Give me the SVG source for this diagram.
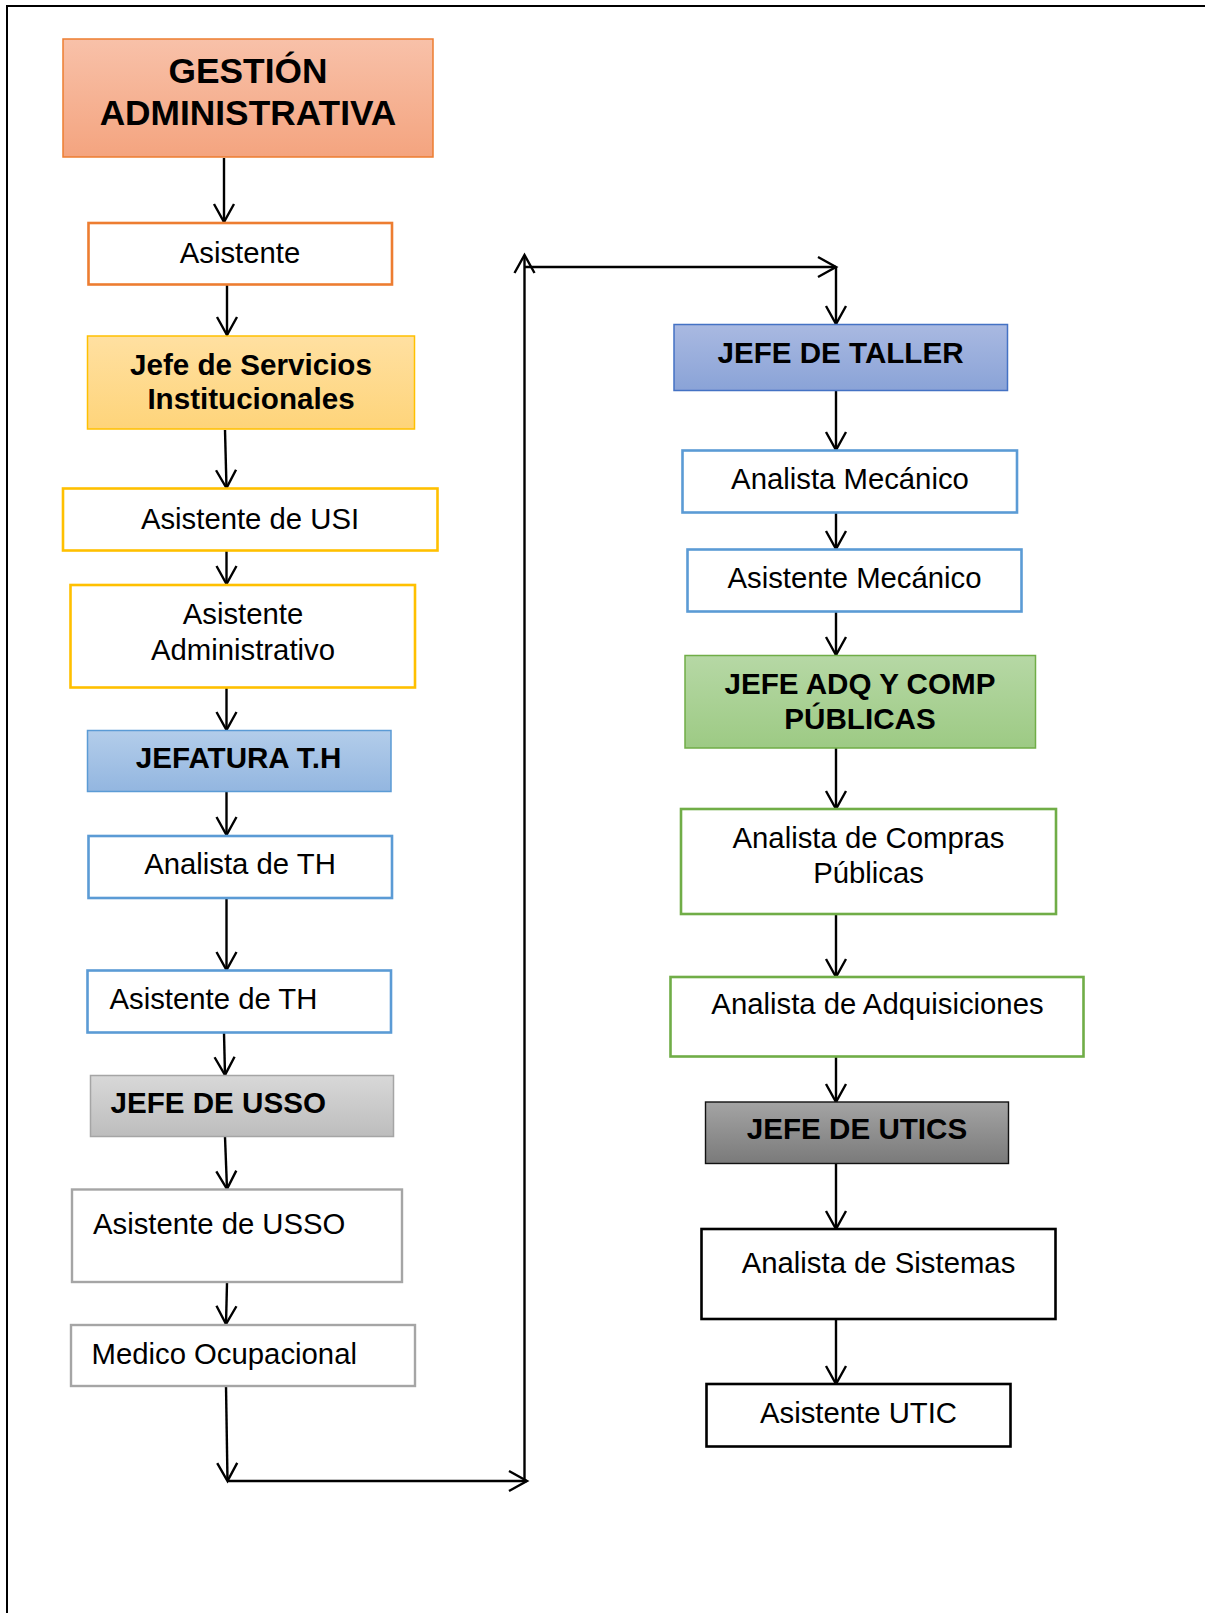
<svg xmlns="http://www.w3.org/2000/svg" width="1205" height="1613" viewBox="0 0 1205 1613">
  <style>
    .t { font-family: "Liberation Sans", Arial, sans-serif; font-size: 29.3px; fill: #000; }
    .b { font-weight: bold; font-size: 29.6px; }
    .big { font-size: 35.3px; }
    .mid { text-anchor: middle; }
    .edge { fill: none; stroke: #000; stroke-width: 2.4; }
  </style>
  <defs>
    <marker id="arrow" viewBox="-20 -12 24 24" markerWidth="24" markerHeight="24" refX="0" refY="0" markerUnits="userSpaceOnUse" orient="auto" overflow="visible">
      <path d="M -18 -10 L 0 0 L -18 10" fill="none" stroke="#000" stroke-width="2.4"/>
    </marker>
    <linearGradient id="gOrange" x1="0" y1="0" x2="0" y2="1">
      <stop offset="0" stop-color="#f8c1a9"/>
      <stop offset="1" stop-color="#f4a47f"/>
    </linearGradient>
    <linearGradient id="gYellow" x1="0" y1="0" x2="0" y2="1">
      <stop offset="0" stop-color="#ffe0a1"/>
      <stop offset="1" stop-color="#fed47a"/>
    </linearGradient>
    <linearGradient id="gLightBlue" x1="0" y1="0" x2="0" y2="1">
      <stop offset="0" stop-color="#b3cdea"/>
      <stop offset="1" stop-color="#93b6e0"/>
    </linearGradient>
    <linearGradient id="gBlue" x1="0" y1="0" x2="0" y2="1">
      <stop offset="0" stop-color="#a9b9e1"/>
      <stop offset="1" stop-color="#8aa3d7"/>
    </linearGradient>
    <linearGradient id="gGreen" x1="0" y1="0" x2="0" y2="1">
      <stop offset="0" stop-color="#b6d8a5"/>
      <stop offset="1" stop-color="#9dca84"/>
    </linearGradient>
    <linearGradient id="gGray" x1="0" y1="0" x2="0" y2="1">
      <stop offset="0" stop-color="#d8d8d8"/>
      <stop offset="1" stop-color="#bdbdbd"/>
    </linearGradient>
    <linearGradient id="gDark" x1="0" y1="0" x2="0" y2="1">
      <stop offset="0" stop-color="#a4a4a4"/>
      <stop offset="1" stop-color="#7a7a7a"/>
    </linearGradient>
  </defs>

  <rect width="1205" height="1613" fill="#fff"/>
  <!-- page frame, open past the right and bottom edges -->
  <rect x="7" y="6" width="1400" height="1800" fill="none" stroke="#000" stroke-width="2"/>

  <!-- connectors -->
  <g id="connectors">
    <line class="edge" x1="224" y1="158" x2="224" y2="222" marker-end="url(#arrow)"/>
    <line class="edge" x1="227" y1="285" x2="227" y2="335" marker-end="url(#arrow)"/>
    <line class="edge" x1="225" y1="430" x2="226.5" y2="488" marker-end="url(#arrow)"/>
    <line class="edge" x1="226.5" y1="551" x2="226.5" y2="584" marker-end="url(#arrow)"/>
    <line class="edge" x1="226.5" y1="688" x2="226.5" y2="730" marker-end="url(#arrow)"/>
    <line class="edge" x1="226.5" y1="792" x2="226.5" y2="835" marker-end="url(#arrow)"/>
    <line class="edge" x1="226.5" y1="898" x2="226.5" y2="970" marker-end="url(#arrow)"/>
    <line class="edge" x1="224" y1="1033" x2="225" y2="1075" marker-end="url(#arrow)"/>
    <line class="edge" x1="225" y1="1137" x2="227" y2="1189" marker-end="url(#arrow)"/>
    <line class="edge" x1="227" y1="1283" x2="226" y2="1324" marker-end="url(#arrow)"/>
    <line class="edge" x1="226" y1="1386" x2="227.5" y2="1481" marker-end="url(#arrow)"/>
    <line class="edge" x1="227.5" y1="1481" x2="527" y2="1481" marker-end="url(#arrow)"/>
    <line class="edge" x1="524.5" y1="1482" x2="524.5" y2="255" marker-end="url(#arrow)"/>
    <line class="edge" x1="524.5" y1="267" x2="836" y2="267" marker-end="url(#arrow)"/>
    <line class="edge" x1="836" y1="267" x2="836" y2="324" marker-end="url(#arrow)"/>
    <line class="edge" x1="836" y1="391" x2="836" y2="450" marker-end="url(#arrow)"/>
    <line class="edge" x1="836" y1="513" x2="836" y2="549" marker-end="url(#arrow)"/>
    <line class="edge" x1="836" y1="612" x2="836" y2="655" marker-end="url(#arrow)"/>
    <line class="edge" x1="836" y1="748" x2="836" y2="809" marker-end="url(#arrow)"/>
    <line class="edge" x1="836" y1="914" x2="836" y2="977" marker-end="url(#arrow)"/>
    <line class="edge" x1="836" y1="1057" x2="836" y2="1102" marker-end="url(#arrow)"/>
    <line class="edge" x1="836" y1="1164" x2="836" y2="1229" marker-end="url(#arrow)"/>
    <line class="edge" x1="836" y1="1319" x2="836" y2="1384" marker-end="url(#arrow)"/>
  </g>

  <!-- left column -->
  <g id="gestion">
    <rect x="63" y="39" width="370" height="118" fill="url(#gOrange)" stroke="#ed7d31" stroke-width="1.5"/>
    <text class="t b big mid" x="248" y="83">GESTIÓN</text>
    <text class="t b big mid" x="248" y="125">ADMINISTRATIVA</text>
  </g>
  <g id="asistente">
    <rect x="88.5" y="223" width="303.5" height="61.5" fill="#fff" stroke="#ed7d31" stroke-width="2.6"/>
    <text class="t mid" x="240" y="262.5">Asistente</text>
  </g>
  <g id="jefe-servicios">
    <rect x="87.5" y="336" width="327" height="93" fill="url(#gYellow)" stroke="#ffc000" stroke-width="1.5"/>
    <text class="t b mid" x="251" y="375">Jefe de Servicios</text>
    <text class="t b mid" x="251" y="409">Institucionales</text>
  </g>
  <g id="asistente-usi">
    <rect x="63" y="488.5" width="374.5" height="62" fill="#fff" stroke="#ffc000" stroke-width="2.6"/>
    <text class="t mid" x="250" y="528.5">Asistente de USI</text>
  </g>
  <g id="asistente-administrativo">
    <rect x="70.5" y="585" width="344.5" height="102.5" fill="#fff" stroke="#ffc000" stroke-width="2.6"/>
    <text class="t mid" x="243" y="624">Asistente</text>
    <text class="t mid" x="243" y="659.5">Administrativo</text>
  </g>
  <g id="jefatura-th">
    <rect x="87.5" y="730.5" width="303.5" height="61" fill="url(#gLightBlue)" stroke="#5b9bd5" stroke-width="1.5"/>
    <text class="t b mid" x="238.5" y="767.5">JEFATURA T.H</text>
  </g>
  <g id="analista-th">
    <rect x="88.5" y="836" width="303.5" height="62" fill="#fff" stroke="#5b9bd5" stroke-width="2.6"/>
    <text class="t mid" x="240" y="874">Analista de TH</text>
  </g>
  <g id="asistente-th">
    <rect x="87.5" y="970.5" width="303.5" height="62" fill="#fff" stroke="#5b9bd5" stroke-width="2.6"/>
    <text class="t" x="109.5" y="1008.5">Asistente de TH</text>
  </g>
  <g id="jefe-usso">
    <rect x="90.5" y="1075.5" width="303" height="61" fill="url(#gGray)" stroke="#a5a5a5" stroke-width="1.5"/>
    <text class="t b" x="110.5" y="1112.5">JEFE DE USSO</text>
  </g>
  <g id="asistente-usso">
    <rect x="72" y="1189.5" width="330" height="92.5" fill="#fff" stroke="#a5a5a5" stroke-width="2.4"/>
    <text class="t" x="93" y="1233.5">Asistente de USSO</text>
  </g>
  <g id="medico-ocupacional">
    <rect x="71" y="1325" width="344" height="61" fill="#fff" stroke="#a5a5a5" stroke-width="2.4"/>
    <text class="t" x="91.5" y="1364">Medico Ocupacional</text>
  </g>

  <!-- right column -->
  <g id="jefe-taller">
    <rect x="674" y="324.5" width="333.5" height="66" fill="url(#gBlue)" stroke="#4472c4" stroke-width="1.5"/>
    <text class="t b mid" x="840.5" y="362.5">JEFE DE TALLER</text>
  </g>
  <g id="analista-mecanico">
    <rect x="682.5" y="450.5" width="334.5" height="62" fill="#fff" stroke="#5b9bd5" stroke-width="2.6"/>
    <text class="t mid" x="850" y="488.5">Analista Mecánico</text>
  </g>
  <g id="asistente-mecanico">
    <rect x="687.5" y="549.5" width="334" height="62" fill="#fff" stroke="#5b9bd5" stroke-width="2.6"/>
    <text class="t mid" x="854.5" y="587.5">Asistente Mecánico</text>
  </g>
  <g id="jefe-adq">
    <rect x="685" y="655.5" width="350.5" height="92.5" fill="url(#gGreen)" stroke="#70ad47" stroke-width="1.5"/>
    <text class="t b mid" x="860" y="694">JEFE ADQ Y COMP</text>
    <text class="t b mid" x="860" y="729">PÚBLICAS</text>
  </g>
  <g id="analista-compras">
    <rect x="681" y="809" width="375" height="105" fill="#fff" stroke="#70ad47" stroke-width="2.6"/>
    <text class="t mid" x="868.5" y="847.5">Analista de Compras</text>
    <text class="t mid" x="868.5" y="883">Públicas</text>
  </g>
  <g id="analista-adquisiciones">
    <rect x="670.5" y="977" width="413" height="79.5" fill="#fff" stroke="#70ad47" stroke-width="2.6"/>
    <text class="t mid" x="877.5" y="1014">Analista de Adquisiciones</text>
  </g>
  <g id="jefe-utics">
    <rect x="705.5" y="1102" width="303" height="61.5" fill="url(#gDark)" stroke="#111" stroke-width="1.4"/>
    <text class="t b mid" x="857" y="1139">JEFE DE UTICS</text>
  </g>
  <g id="analista-sistemas">
    <rect x="701.5" y="1229" width="354" height="90" fill="#fff" stroke="#000" stroke-width="2.6"/>
    <text class="t mid" x="878.5" y="1272.5">Analista de Sistemas</text>
  </g>
  <g id="asistente-utic">
    <rect x="706.5" y="1384" width="304" height="62.5" fill="#fff" stroke="#000" stroke-width="2.6"/>
    <text class="t mid" x="858.5" y="1422.5">Asistente UTIC</text>
  </g>
</svg>
